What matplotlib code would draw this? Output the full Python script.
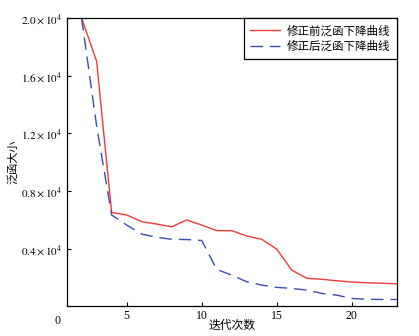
import matplotlib
matplotlib.use('Agg')
import matplotlib.pyplot as plt

plt.rcParams['font.family'] = ['Liberation Serif', 'Noto Sans CJK SC']
plt.rcParams['mathtext.fontset'] = 'stix'

# 迭代次数
iters = [2, 3, 4, 5, 6, 7, 8, 9, 10, 11, 12, 13, 14, 15, 16, 17, 18, 19, 20, 21, 22, 23]
# 修正前
before = [20000, 17000, 6500, 6330, 5860, 5700, 5510, 5980, 5630, 5240, 5240, 4870,
          4640, 3960, 2500, 1930, 1860, 1760, 1670, 1620, 1590, 1550]
# 修正后
after = [20000, 12500, 6330, 5630, 5000, 4780, 4640, 4620, 4560, 2550, 2150, 1690,
         1460, 1300, 1230, 1110, 880, 760, 530, 470, 460, 460]

yticks = [4000, 8000, 12000, 16000, 20000]
ytick_labels = [r'$0.4\times10^4$', r'$0.8\times10^4$', r'$1.2\times10^4$',
                r'$1.6\times10^4$', r'$2.0\times10^4$']
xticks = [5, 10, 15, 20]

fig = plt.figure(figsize=(4.19, 3.36), dpi=100)
ax = fig.add_axes([0.159, 0.089, 0.788, 0.857])

ax.plot(iters, before, color='#f03a3a', lw=1.0, label='修正前泛函下降曲线')
ax.plot(iters, after, color='#3a4db0', lw=1.0, dashes=(9, 5), label='修正后泛函下降曲线')

ax.set_xlim(1, 23)
ax.set_ylim(0, 20000)
ax.set_xticks(xticks)
ax.set_xticklabels([str(t) for t in xticks], fontsize=8.5)
ax.set_yticks(yticks)
ax.set_yticklabels(ytick_labels, fontsize=8)
ax.tick_params(direction='in', length=3, width=0.8, pad=3)
ax.text(-0.018, -0.03, '0', transform=ax.transAxes, ha='right', va='top', fontsize=8.5)

ax.set_xlabel('迭代次数', fontsize=8.5, family=['Noto Sans CJK SC'])
ax.xaxis.set_label_coords(0.5, -0.045)
ax.set_ylabel('泛函大小', fontsize=8, family=['Noto Sans CJK SC'])
ax.yaxis.set_label_coords(-0.145, 0.5)

for s in ax.spines.values():
    s.set_linewidth(0.9)

leg = ax.legend(loc='upper right', prop={'family': ['Noto Sans CJK SC'], 'size': 8.3},
                fancybox=False, edgecolor='black', framealpha=1, borderaxespad=0,
                handlelength=2.6, handletextpad=0.6, labelspacing=0.2, borderpad=0.55)
leg.get_frame().set_linewidth(0.9)

plt.savefig('out.png', dpi=100)
